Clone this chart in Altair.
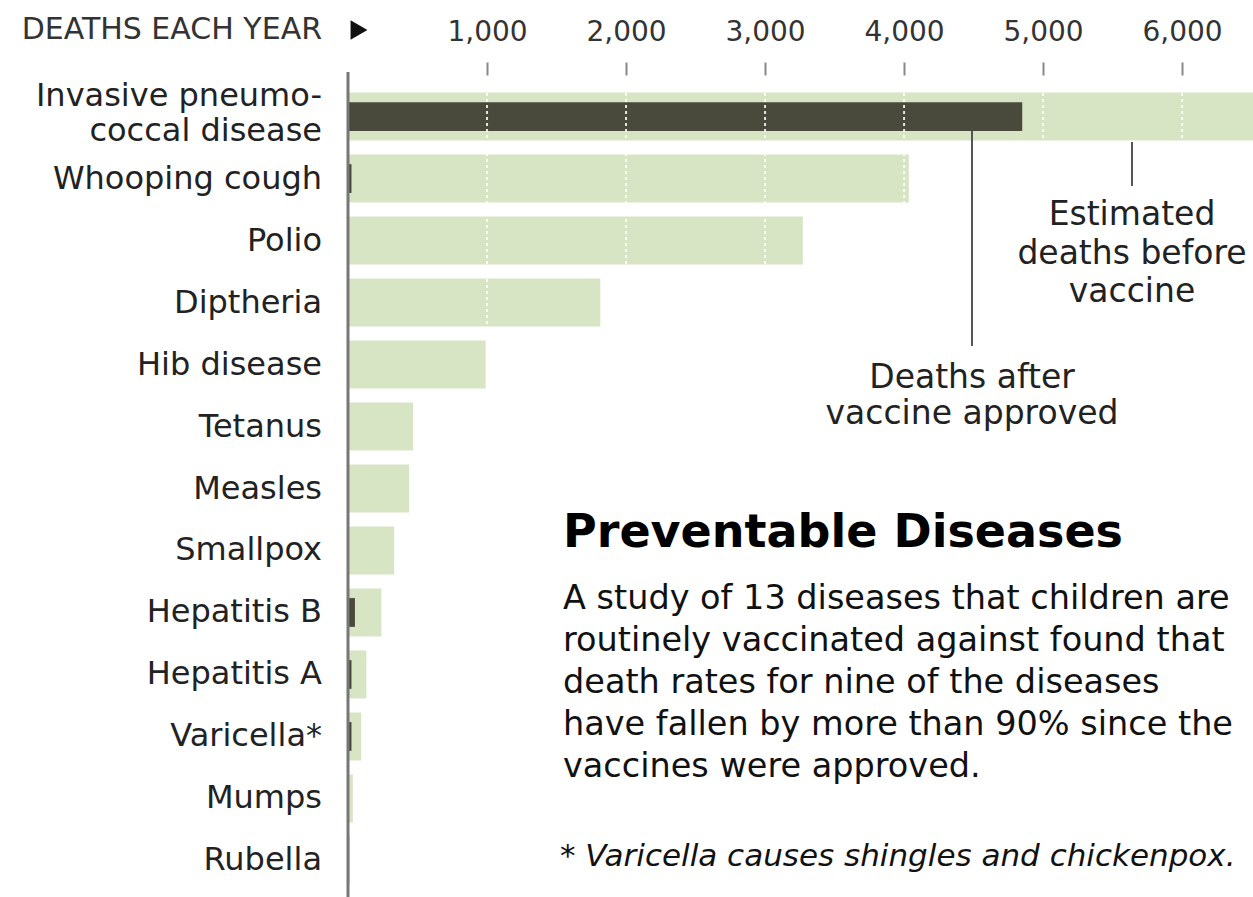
import altair as alt
import pandas as pd

# Annual deaths per disease: estimated before the vaccine vs. after approval
diseases = [
    "Invasive pneumococcal disease", "Whooping cough", "Polio", "Diptheria",
    "Hib disease", "Tetanus", "Measles", "Smallpox", "Hepatitis B",
    "Hepatitis A", "Varicella*", "Mumps", "Rubella",
]
labels = [
    "Invasive pneumo-\ncoccal disease", "Whooping cough", "Polio", "Diptheria",
    "Hib disease", "Tetanus", "Measles", "Smallpox", "Hepatitis B",
    "Hepatitis A", "Varicella*", "Mumps", "Rubella",
]
deaths_before = [6510, 4034, 3272, 1815, 990, 468, 440, 332, 240, 132, 95, 35, 15]
deaths_after = [4850, 25, 0, 0, 0, 0, 0, 0, 50, 25, 25, 0, 0]
tick_values = [1000, 2000, 3000, 4000, 5000, 6000]

df = pd.DataFrame({
    "disease": diseases,
    "label": labels,
    "before": deaths_before,
    "after": deaths_after,
})
ticks_df = pd.DataFrame({"value": tick_values})
one = pd.DataFrame({"k": [0]})

LIGHT = "#d8e5c4"
DARK = "#4a4a3c"
FONT = "DejaVu Sans"
PLOT_H = 803

x_scale = alt.Scale(domain=[0, 6510], nice=False, zero=True)
y_enc = alt.Y(
    "disease:N", sort=diseases, axis=None,
    scale=alt.Scale(paddingInner=0.226, paddingOuter=0.09),
)

base = alt.Chart(df)

before_bars = base.mark_bar(color=LIGHT).encode(
    x=alt.X(
        "before:Q", scale=x_scale, title=None,
        axis=alt.Axis(
            orient="top", values=tick_values,
            labelExpr="format(datum.value, ',')",
            grid=False, domain=False, ticks=True, tickSize=13,
            tickColor="#888888", tickWidth=2, offset=12,
            labelFont=FONT, labelFontSize=28, labelColor="#333333",
            labelPadding=16, title=None,
        ),
    ),
    y=y_enc,
)

after_bars = base.mark_bar(color=DARK, height={"band": 0.6}).encode(
    x=alt.X("after:Q", scale=x_scale, title=None),
    y=y_enc,
)

# Dashed white gridlines drawn over the bars
grid = alt.Chart(ticks_df).mark_rule(
    color="white", strokeDash=[3, 3], strokeWidth=2, opacity=0.85
).encode(
    x=alt.X("value:Q", scale=x_scale, title=None),
    y=alt.value(0), y2=alt.value(PLOT_H),
)

label_style = dict(
    align="right", baseline="middle", font=FONT, fontSize=32,
    color="#222222", lineBreak="\n", lineHeight=35,
)
single_labels = base.transform_filter(
    "indexof(datum.label, '\\n') < 0"
).mark_text(**label_style).encode(x=alt.value(-26), y=y_enc, text="label:N")
double_labels = base.transform_filter(
    "indexof(datum.label, '\\n') >= 0"
).mark_text(dy=-21, **label_style).encode(x=alt.value(-26), y=y_enc, text="label:N")

axis_line = alt.Chart(one).mark_rule(color="#777777", strokeWidth=3).encode(
    x=alt.value(0), y=alt.value(-15), y2=alt.value(812)
)

header = alt.Chart(one).mark_text(
    text="DEATHS EACH YEAR", align="right", baseline="middle",
    font=FONT, fontSize=30, color="#333333",
).encode(x=alt.value(-26), y=alt.value(-57))

arrow = alt.Chart(one).mark_point(
    shape="triangle-right", filled=True, color="#111111", size=380, opacity=1
).encode(x=alt.value(11), y=alt.value(-57))

# Callouts for the two bar kinds
lead_after = alt.Chart(one).mark_rule(color="#555555", strokeWidth=2).encode(
    x=alt.value(624), y=alt.value(44), y2=alt.value(259)
)
lead_before = alt.Chart(one).mark_rule(color="#555555", strokeWidth=2).encode(
    x=alt.value(784), y=alt.value(55), y2=alt.value(99)
)
note_before = alt.Chart(one).mark_text(
    text="Estimated\ndeaths before\nvaccine", lineBreak="\n", lineHeight=38.5,
    align="center", baseline="middle", font=FONT, fontSize=33, color="#222222",
).encode(x=alt.value(784), y=alt.value(128))
note_after = alt.Chart(one).mark_text(
    text="Deaths after\nvaccine approved", lineBreak="\n", lineHeight=36,
    align="center", baseline="middle", font=FONT, fontSize=33, color="#222222",
).encode(x=alt.value(624), y=alt.value(291))

title = alt.Chart(one).mark_text(
    text="Preventable Diseases", align="left", baseline="alphabetic",
    font=FONT, fontSize=46, fontWeight="bold", color="#000000",
).encode(x=alt.value(215), y=alt.value(460))

body = alt.Chart(one).mark_text(
    text=(
        "A study of 13 diseases that children are\n"
        "routinely vaccinated against found that\n"
        "death rates for nine of the diseases\n"
        "have fallen by more than 90% since the\n"
        "vaccines were approved."
    ),
    lineBreak="\n", lineHeight=42, align="left", baseline="alphabetic",
    font=FONT, fontSize=33.5, color="#111111",
).encode(x=alt.value(215), y=alt.value(522))

footnote = alt.Chart(one).mark_text(
    text="* Varicella causes shingles and chickenpox.", align="left",
    baseline="alphabetic", font=FONT, fontSize=31, fontStyle="italic",
    color="#111111",
).encode(x=alt.value(212), y=alt.value(779))

chart = alt.layer(
    before_bars, after_bars, grid, axis_line, single_labels, double_labels,
    header, arrow, lead_after, lead_before, note_before, note_after, title,
    body, footnote,
).properties(
    width=905,
    height=PLOT_H,
    background="white",
    padding={"left": 348, "top": 87, "right": 0, "bottom": 7},
    autosize=alt.AutoSizeParams(type="none"),
).configure_view(stroke=None)

chart.save("out.html", embed_options={"renderer": "svg", "actions": False})
